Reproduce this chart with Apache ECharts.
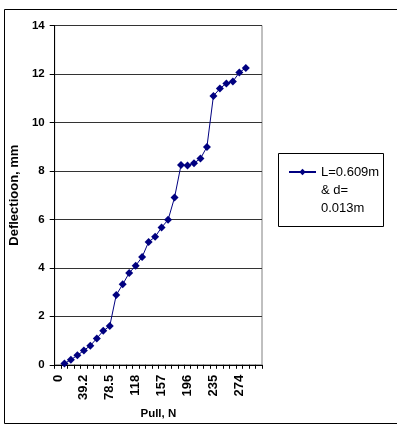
<!DOCTYPE html>
<html><head><meta charset="utf-8">
<script src="https://cdn.jsdelivr.net/npm/echarts@6/dist/echarts.min.js"></script>
<style>html,body{margin:0;padding:0;background:#fff}#c{width:397px;height:425px}</style>
</head><body><div id="c"></div>
<script>
// Pull (N) categories
const pullN = ['0','9.81','19.6','29.4','39.2','49.1','58.9','68.7','78.5','88.3','98.1','108','118','128','137','147','157','167','177','186','196','206','216','226','235','245','255','265','274','284','294','304'];
// Deflection (mm)
const deflection = [null,0.05,0.21,0.39,0.59,0.79,1.09,1.40,1.60,2.88,3.32,3.79,4.09,4.45,5.07,5.28,5.67,5.98,6.90,8.24,8.22,8.32,8.51,8.99,11.09,11.40,11.61,11.69,12.06,12.25,null,null];
const seriesName = 'L=0.609m & d= 0.013m';
const legendLines = ['L=0.609m','& d=','0.013m'];
const yTicks = [0,2,4,6,8,10,12,14];

const FONT = "'Liberation Sans', Arial, sans-serif";
const chart = echarts.init(document.getElementById('c'), null, {renderer:'canvas'});
chart.setOption({
  animation:false,
  backgroundColor:'#fff',
  grid:{left:54, top:25.5, width:208, height:343, show:true, borderColor:'#808080', borderWidth:1, containLabel:false},
  xAxis:{
    type:'category', data:pullN, boundaryGap:true,
    name:'Pull, N', nameLocation:'middle', nameGap:36,
    nameTextStyle:{fontFamily:FONT, fontWeight:'bold', fontSize:11.5, color:'#000'},
    axisLine:{show:true, lineStyle:{color:'#000', width:1}},
    axisTick:{show:true, interval:0, length:4, lineStyle:{color:'#000'}},
    axisLabel:{interval:3, rotate:90, margin:10, fontFamily:FONT, fontWeight:'bold', fontSize:13, color:'#000'},
    splitLine:{show:false}
  },
  yAxis:{
    type:'value', min:yTicks[0], max:yTicks[yTicks.length-1], interval:2,
    name:'Deflectioon, mm', nameLocation:'middle', nameGap:28,
    nameTextStyle:{fontFamily:FONT, fontWeight:'bold', fontSize:13, color:'#000'},
    axisLine:{show:true, lineStyle:{color:'#000', width:1}},
    axisTick:{show:true, length:5, lineStyle:{color:'#000'}},
    axisLabel:{margin:10, fontFamily:FONT, fontWeight:'bold', fontSize:11.5, color:'#000'},
    splitLine:{show:true, lineStyle:{color:'#333', width:1}}
  },
  legend:{
    show:true, left:288, top:127, padding:0, itemWidth:27, itemHeight:8,
    data:[seriesName],
    formatter:function(){return '\n\n' + legendLines.join('\n');},
    textStyle:{fontFamily:FONT, fontSize:13, color:'#000', lineHeight:18}
  },
  graphic:[
    {type:'rect', shape:{x:278.5, y:153.5, width:105, height:73}, style:{fill:'none', stroke:'#000', lineWidth:1}, z:-1},
    {type:'rect', shape:{x:4.5, y:9.5, width:420, height:414}, style:{fill:'none', stroke:'#000', lineWidth:1}, z:-1}
  ],
  series:[{
    name:seriesName, type:'line', data:deflection,
    symbol:'diamond', symbolSize:8, showAllSymbol:true,
    itemStyle:{color:'#000080'},
    lineStyle:{color:'#000080', width:1},
    connectNulls:false
  }]
});
</script></body></html>
